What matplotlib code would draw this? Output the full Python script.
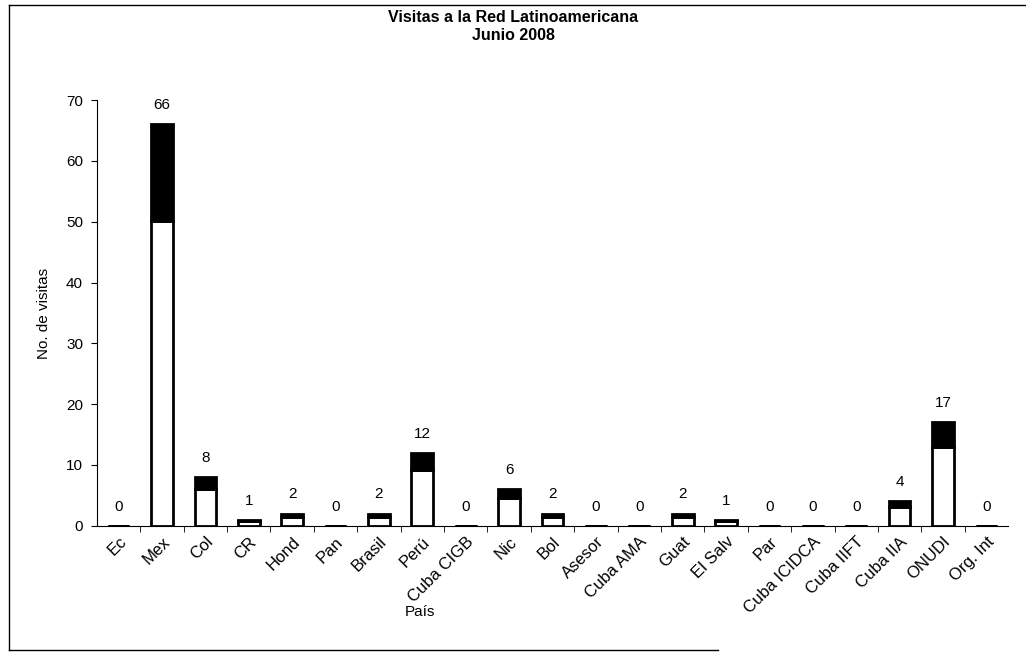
import matplotlib.pyplot as plt
from matplotlib.lines import Line2D
from matplotlib.transforms import ScaledTranslation

plt.rcParams['font.family'] = ['Liberation Sans', 'DejaVu Sans']

# Datos del gráfico
paises = ['Ec', 'Mex', 'Col', 'CR', 'Hond', 'Pan', 'Brasil', 'Perú', 'Cuba CIGB',
          'Nic', 'Bol', 'Asesor', 'Cuba AMA', 'Guat', 'El Salv', 'Par',
          'Cuba ICIDCA', 'Cuba IIFT', 'Cuba IIA', 'ONUDI', 'Org. Int']
visitas = [0, 66, 8, 1, 2, 0, 2, 12, 0, 6, 2, 0, 0, 2, 1, 0, 0, 0, 4, 17, 0]

fig = plt.figure(figsize=(10.26, 6.54), dpi=100)
ax = fig.add_axes([0.0945, 0.196, 0.888, 0.651])

x = list(range(len(paises)))
# relleno degradado del original: parte inferior blanca, parte superior negra
parte_blanca = [v * 0.76 for v in visitas]
parte_negra = [v * 0.24 for v in visitas]
ax.bar(x, parte_blanca, width=0.5, color='white', edgecolor='black', linewidth=2)
ax.bar(x, parte_negra, bottom=parte_blanca, width=0.5, color='black',
       edgecolor='black', linewidth=2)

for i, v in enumerate(visitas):
    ax.text(i, v + 2.0, str(v), ha='center', va='bottom', fontsize=11)

ax.set_xlim(-0.5, len(paises) - 0.5)
ax.set_ylim(0, 70)
ax.set_yticks(range(0, 71, 10))
ax.set_xticks(x)
ax.set_xticklabels(paises, rotation=45, ha='right', rotation_mode='anchor', fontsize=12)
desplaz = ScaledTranslation(-4 / 100, -6 / 100, fig.dpi_scale_trans)
for lbl in ax.get_xticklabels():
    lbl.set_transform(lbl.get_transform() + desplaz)
ax.set_xticks([i + 0.5 for i in x[:-1]], minor=True)
ax.tick_params(axis='x', which='major', length=0, pad=6)
ax.tick_params(axis='x', which='minor', length=4, direction='out')
ax.tick_params(axis='y', length=4, labelsize=11, pad=6)
ax.spines['top'].set_visible(False)
ax.spines['right'].set_visible(False)

ax.set_ylabel('No. de visitas', fontsize=11)
ax.set_xlabel('País', fontsize=11)
ax.yaxis.set_label_coords(-0.05, 0.5)
ax.xaxis.set_label_coords(0.355, -0.185)

fig.text(0.5, 0.985, 'Visitas a la Red Latinoamericana\nJunio 2008', ha='center', va='top',
         fontsize=11.5, fontweight='bold', linespacing=1.3)

# Marco del área del gráfico (escaneado: izquierda, arriba y abajo)
for xs, ys in [([0.009, 0.009], [0.006, 0.992]), ([0.009, 1.0], [0.992, 0.992]),
               ([0.009, 0.7], [0.006, 0.006])]:
    fig.add_artist(Line2D(xs, ys, transform=fig.transFigure, color='black', linewidth=1.0))

plt.savefig('out.png', dpi=100)
plt.close()
